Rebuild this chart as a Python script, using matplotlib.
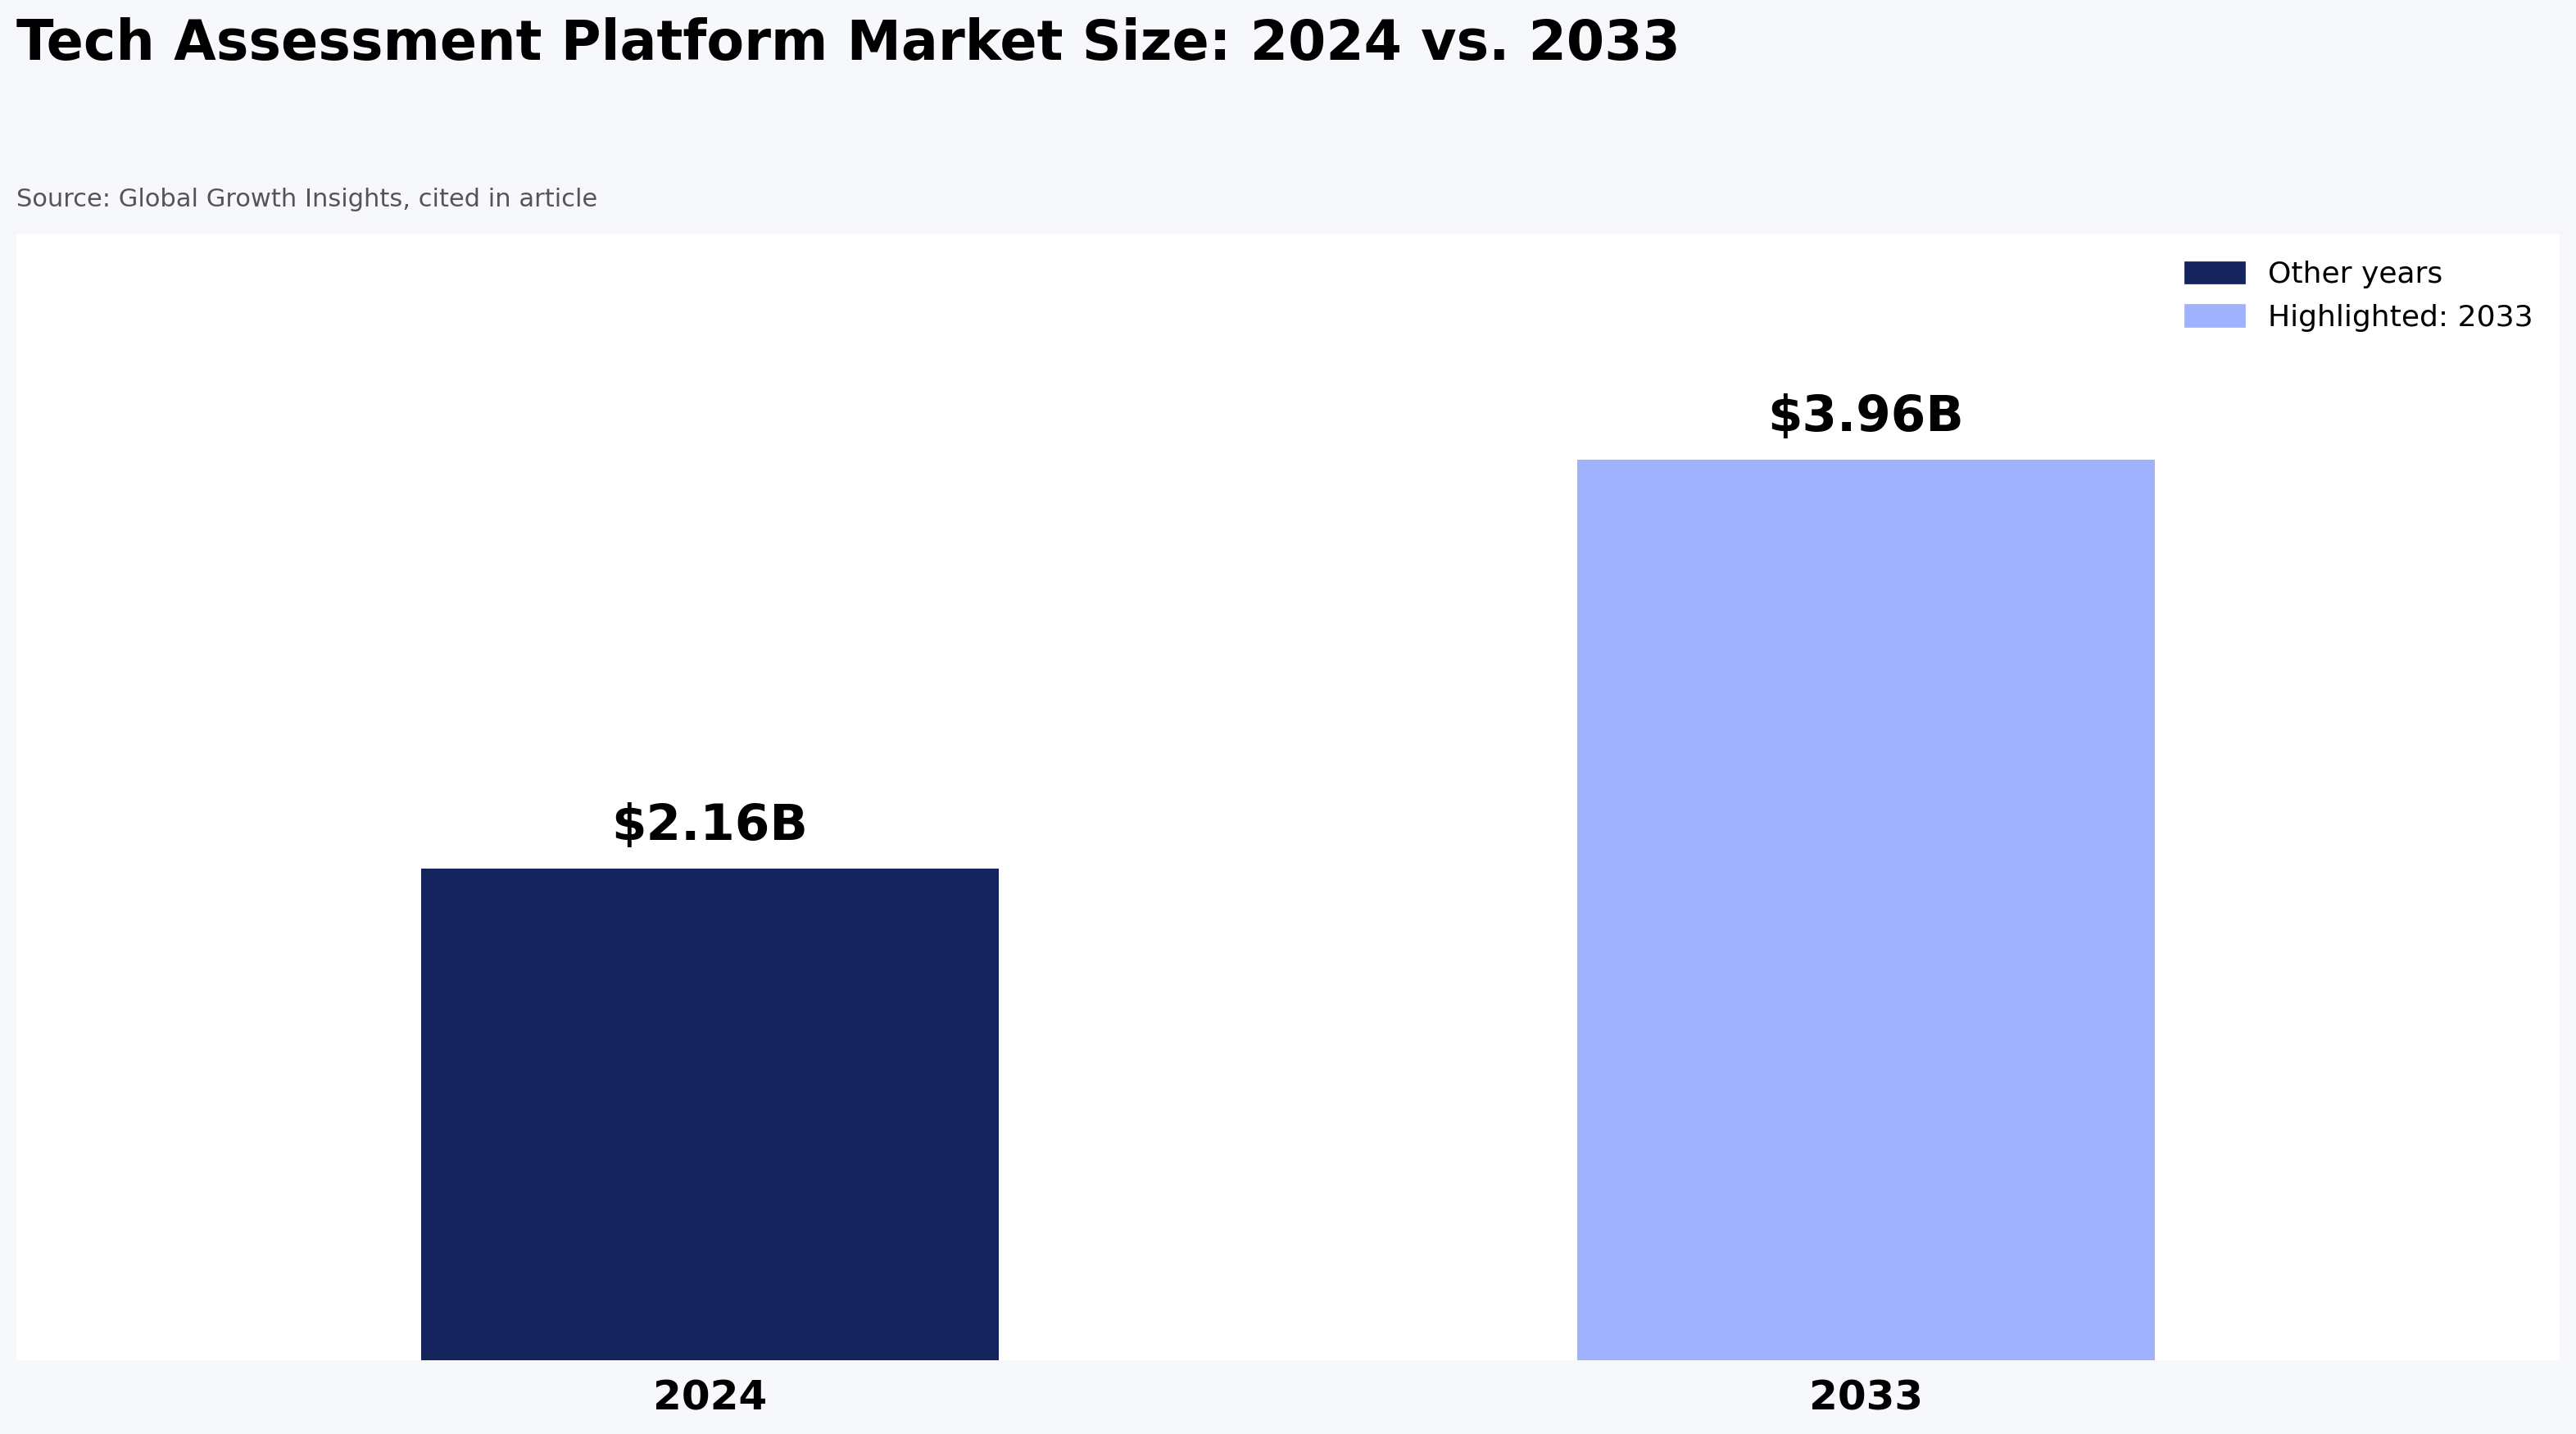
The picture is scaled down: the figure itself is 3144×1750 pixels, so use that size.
import matplotlib
matplotlib.use("Agg")
import matplotlib.pyplot as plt
from matplotlib.patches import Patch

years = ["2024", "2033"]
market_size = [2.16, 3.96]
value_labels = ["$2.16B", "$3.96B"]
highlight_year = "2033"

DARK = "#15245c"
LIGHT = "#a0b1fe"
BG = "#f7f8fc"

fig = plt.figure(figsize=(15.72, 8.75), dpi=200, facecolor=BG)
ax = fig.add_axes([0.0064, 0.0514, 0.9872, 0.7852])
ax.set_facecolor("white")

colors = [LIGHT if y == highlight_year else DARK for y in years]
xs = range(len(years))
bars = ax.bar(xs, market_size, width=0.5, color=colors)

for bar, lbl in zip(bars, value_labels):
    ax.annotate(lbl, (bar.get_x() + bar.get_width() / 2, bar.get_height()),
                xytext=(0, 8), textcoords="offset points",
                ha="center", va="bottom", fontsize=22, fontweight="bold")

ax.set_xlim(-0.6, 1.6)
ax.set_ylim(0, max(market_size) * 1.25)
ax.set_xticks(list(xs))
ax.set_xticklabels(years, fontsize=18, fontweight="bold")
ax.tick_params(axis="x", length=0, pad=8)
ax.set_yticks([])
for s in ax.spines.values():
    s.set_visible(False)

handles = [Patch(color=DARK, label="Other years"),
           Patch(color=LIGHT, label="Highlighted: " + highlight_year)]
ax.legend(handles=handles, loc="upper right", frameon=False, fontsize=13)

fig.text(0.0064, 0.988, "Tech Assessment Platform Market Size: 2024 vs. 2033",
         fontsize=24, fontweight="bold", ha="left", va="top")
fig.text(0.0064, 0.861, "Source: Global Growth Insights, cited in article",
         fontsize=11, color="#555555", ha="left", va="center")

fig.savefig("out.png", dpi=200, facecolor=BG)
